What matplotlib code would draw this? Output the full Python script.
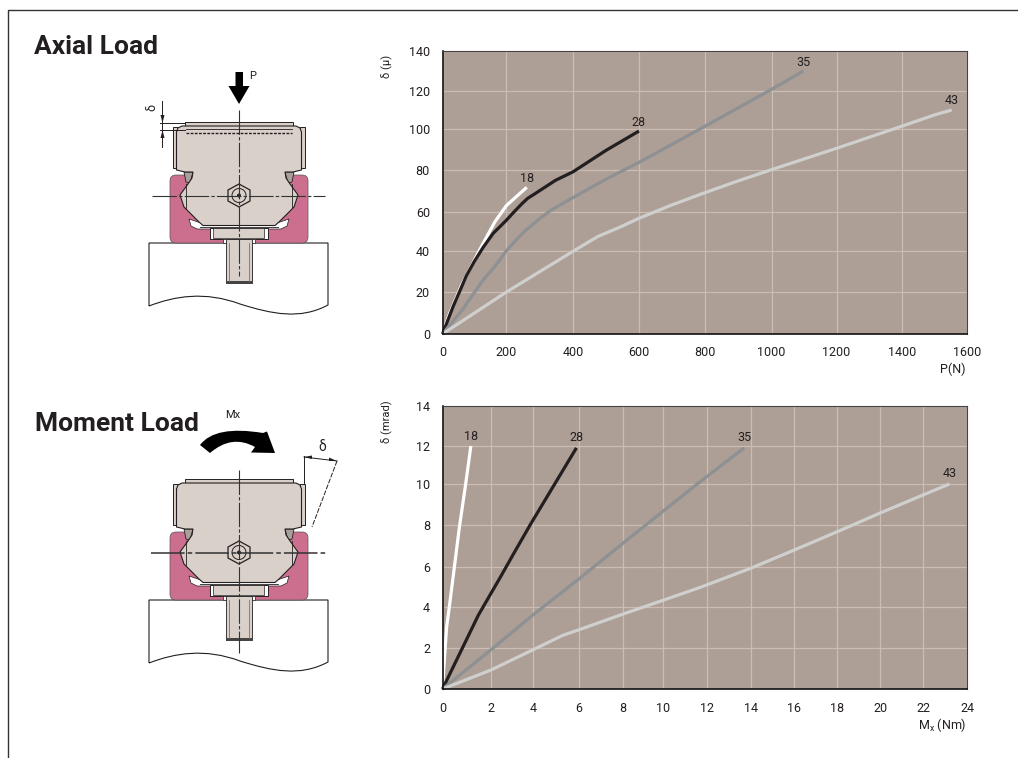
import matplotlib
matplotlib.use('Agg')
import matplotlib.pyplot as plt
import numpy as np
from matplotlib.patches import Polygon, Rectangle, FancyBboxPatch, PathPatch
from matplotlib.path import Path

plt.rcParams['font.family'] = ['Roboto', 'DejaVu Sans']
plt.rcParams['mathtext.default'] = 'regular'

W, H = 1018, 758

# Axial load curves, P (N) against deflection (micron)
axial_18_x = [0, 7, 23, 60, 117, 165, 201, 262]
axial_18_y = [0, 3.5, 10, 23.5, 40.7, 55, 63, 71.7]
axial_28_x = [0, 33, 75, 100, 128, 160, 200, 222, 248, 265, 285, 348, 400, 500, 600]
axial_28_y = [0, 13, 28, 35, 42, 49.2, 55.6, 59.7, 64, 66.5, 68.5, 75, 79, 89.5, 99]
axial_35_x = [0, 62, 95, 128, 166, 200, 233, 258, 299, 331, 366, 400, 501, 600, 785, 892, 1000, 1098]
axial_35_y = [0, 11.5, 18.7, 26, 32.8, 40, 46.3, 50.5, 56.4, 60.5, 63.8, 66.8, 75.6, 83.6, 100, 110.4, 120.8, 130]
axial_43_x = [0, 200, 301, 400, 475, 541, 600, 694, 785, 892, 1000, 1200, 1400, 1500, 1553]
axial_43_y = [0, 20, 30.1, 40, 47.5, 52.2, 56.8, 63, 68.3, 74.3, 80, 90.5, 101.5, 107.4, 110]

# Moment load curves, Mx (Nm) against deflection (mrad)
moment_18_x = [0, 0.07, 0.17, 0.30, 0.48, 0.69, 0.94, 1.17]
moment_18_y = [0, 1.3, 3, 4.17, 5.92, 7.83, 9.87, 12]
moment_28_x = [0, 0.86, 1.48, 2.43, 3.13, 3.87, 4.95, 5.9]
moment_28_y = [0, 2.08, 3.59, 5.47, 6.73, 8, 10, 11.9]
moment_35_x = [0, 2, 4, 6, 8, 10, 11.65, 13.7]
moment_35_y = [0, 1.9, 3.6, 5.4, 7.13, 8.67, 10.1, 11.9]
moment_43_x = [0, 2, 4, 5.3, 6, 8, 10, 11.65, 14, 16, 18, 20, 22, 23.2]
moment_43_y = [0, 0.92, 1.9, 2.6, 2.87, 3.64, 4.33, 4.97, 5.95, 6.8, 7.66, 8.57, 9.46, 10]

axial_ticks_x = [0, 200, 400, 600, 800, 1000, 1200, 1400, 1600]
axial_ticks_y = [0, 20, 40, 60, 80, 100, 120, 140]
moment_ticks_x = [0, 2, 4, 6, 8, 10, 12, 14, 16, 18, 20, 22, 24]
moment_ticks_y = [0, 2, 4, 6, 8, 10, 12, 14]

# the printed grids are not quite even, these are their pixel rows and columns
axial_grid_x = [442.5, 506, 573, 639, 705, 771.5, 836.5, 902, 967]
axial_grid_y = [334, 292.3, 251.3, 212, 169.7, 129, 91, 51]
moment_grid_x = [442.5, 491, 533, 578.7, 623, 663.3, 707.3, 750.7, 793.7, 836.7, 880, 923, 967]
moment_grid_y = [689, 647.7, 606.7, 567.3, 524.7, 484, 446, 406]

sizes = ['18', '28', '35', '43']
line_colors = ['#ffffff', '#231f20', '#8e9194', '#cfd0ce']

BG = '#ad9e96'
GRID = '#cbbdb5'
DARK = '#231f20'
BEIGE = '#d8d0c9'
PINK = '#cc6f8f'

fig = plt.figure(figsize=(W / 100, H / 100), dpi=100, facecolor='white')

# page layer in pixel coordinates, for the frame, titles and drawings
page = fig.add_axes([0, 0, 1, 1])
page.set_xlim(0, W)
page.set_ylim(H, 0)
page.axis('off')


def uneven_scale(ticks, grid):
    def forward(v):
        return np.interp(v, ticks, grid)

    def inverse(v):
        return np.interp(v, grid, ticks)

    return forward, inverse


def chart(grid_x, grid_y, xs, ys, xticks, yticks, label_gap):
    left, right = grid_x[0], grid_x[-1]
    bottom, top = grid_y[0], grid_y[-1]
    ax = fig.add_axes([left / W, 1 - bottom / H, (right - left) / W, (bottom - top) / H])
    ax.set_facecolor(BG)
    ax.set_xscale('function', functions=uneven_scale(xticks, grid_x))
    # rows run downwards in pixels, so use the distance up from the bottom
    ax.set_yscale('function', functions=uneven_scale(yticks, [bottom - g for g in grid_y]))
    ax.set_xlim(xticks[0], xticks[-1])
    ax.set_ylim(yticks[0], yticks[-1])
    ax.set_xticks(xticks)
    ax.set_yticks(yticks)
    ax.set_xticklabels([str(t) for t in xticks])
    ax.set_yticklabels([str(t) for t in yticks])
    ax.minorticks_off()
    ax.grid(True, color=GRID, lw=0.9)
    ax.set_axisbelow(True)
    ax.tick_params(length=0, labelsize=9, colors=DARK)
    ax.tick_params(axis='x', pad=9)
    ax.tick_params(axis='y', pad=9)
    for s in ['top', 'right']:
        ax.spines[s].set_linewidth(0.8)
        ax.spines[s].set_color('#444444')
    for s in ['left', 'bottom']:
        ax.spines[s].set_linewidth(1.2)
        ax.spines[s].set_color('#111111')
    for x, y, c, name, gap in zip(xs, ys, line_colors, sizes, label_gap):
        ax.plot(x, y, color=c, lw=2.3, solid_capstyle='butt', solid_joinstyle='round', clip_on=False)
        ax.annotate(name, xy=(x[-1], y[-1]), xytext=(0, gap), textcoords='offset points',
                    ha='center', va='center', fontsize=9, color=DARK)
    return ax


def mirror(points):
    return [(478 - x, y) for x, y in reversed(points)]


def wavy_base(dy):
    verts = [(149, 306), (149, 243), (328, 243), (328, 305),
             (300, 320), (272, 314), (240, 304), (205, 291), (175, 296), (149, 306)]
    verts = [(x, y + dy) for x, y in verts]
    codes = [Path.MOVETO, Path.LINETO, Path.LINETO, Path.LINETO,
             Path.CURVE4, Path.CURVE4, Path.CURVE4, Path.CURVE4, Path.CURVE4, Path.CURVE4]
    page.add_patch(PathPatch(Path(verts, codes), fc='white', ec=DARK, lw=0.8))


def carriage(dy, cross_top, cross_bottom, hline_x, hline_lw):
    # everything is drawn around the axial position and shifted by dy
    def p(pts):
        return [(x, y + dy) for x, y in pts]

    wavy_base(dy)

    page.add_patch(FancyBboxPatch((170, 175 + dy), 138, 68, boxstyle='round,pad=0,rounding_size=6',
                                  fc=PINK, ec='#555555', lw=0.5))
    # white gap under the carriage
    gap = [(189, 219), (191, 226), (197, 229), (281, 229), (287, 226), (289, 219), (277, 223), (201, 223)]
    page.add_patch(Polygon(p(gap), fc='white', ec=DARK, lw=0.5))
    page.add_patch(Rectangle((210, 228 + dy), 58, 11, fc='white', ec=DARK, lw=0.7))
    page.add_patch(Rectangle((213.5, 228 + dy), 51, 10, fc=BEIGE, ec=DARK, lw=0.5))
    page.add_patch(Rectangle((223, 239 + dy), 32, 4, fc='white', ec=DARK, lw=0.5))
    # stud
    page.add_patch(Rectangle((226, 239 + dy), 26, 44, fc=BEIGE, ec=DARK, lw=0.6))
    page.add_patch(Rectangle((226, 281 + dy), 26, 2.5, fc='#444444', ec='none'))
    page.plot([229, 229], [243 + dy, 281 + dy], color='#777777', lw=0.6)
    page.plot([249, 249], [243 + dy, 281 + dy], color='#777777', lw=0.6)

    # end plates and top plate
    page.add_patch(Rectangle((173, 127 + dy), 5, 41, fc=BEIGE, ec=DARK, lw=0.7))
    page.add_patch(Rectangle((300, 127 + dy), 5, 41, fc=BEIGE, ec=DARK, lw=0.7))
    page.add_patch(Rectangle((185, 122 + dy), 108, 4, fc=BEIGE, ec=DARK, lw=0.7))

    # seal at the top of the rail
    for seal in ([(184, 172), (193, 172), (190, 183), (186, 182)], mirror([(184, 172), (193, 172), (190, 183), (186, 182)])):
        page.add_patch(Polygon(p(seal), fc='#a9a09a', ec=DARK, lw=0.6))

    half = [(239, 126), (182, 126), (178, 128), (176.5, 132), (176.5, 170), (185, 172), (193, 172), (192, 178),
            (188, 184), (180, 195), (184, 207), (199, 222), (203, 225.5), (239, 225.5)]
    page.add_patch(Polygon(p(half + mirror(half)), fc=BEIGE, ec=DARK, lw=0.8))
    # seam lines on the sides and under the body
    page.plot([186, 186], [184 + dy, 208 + dy], color=DARK, lw=0.6)
    page.plot([292, 292], [184 + dy, 208 + dy], color=DARK, lw=0.6)
    page.plot([200, 278], [227 + dy, 227 + dy], color=DARK, lw=0.6)

    # grease nipple
    hexagon = [(239, 184), (250, 190), (250, 201), (239, 207), (228, 201), (228, 190)]
    page.add_patch(Polygon(p(hexagon), fc=BEIGE, ec=DARK, lw=0.9))
    page.add_patch(plt.Circle((239, 195.5 + dy), 7, fc=BEIGE, ec=DARK, lw=0.7))
    page.add_patch(plt.Circle((239, 195.5 + dy), 2, fc=DARK, ec='none'))

    # centre lines
    page.plot([239, 239], [cross_top, cross_bottom], color='#333333', lw=0.8, dashes=(22, 2, 3, 2))
    page.plot(hline_x, [195.5 + dy, 195.5 + dy], color='#333333', lw=hline_lw, dashes=(22, 2, 3, 2))


# page frame
page.plot([8, 8, W], [H, 10, 10], color='#333333', lw=1)

# titles
page.text(34, 47, 'Axial Load', fontsize=19, fontweight='bold', color=DARK, va='center', ha='left')
page.text(35, 424, 'Moment Load', fontsize=19, fontweight='bold', color=DARK, va='center', ha='left')

# axial drawing
carriage(0, 110, 276, [152, 325], 0.8)
page.add_patch(Polygon([(235.5, 72), (243, 72), (243, 86), (249.5, 86), (239, 104), (228.5, 86), (235.5, 86)],
                       fc='black', ec='none'))
page.text(253, 76, 'P', fontsize=8, color=DARK, ha='center', va='center')
page.text(152, 107, 'δ', fontsize=9, color=DARK, ha='center', va='center', rotation=90)
page.plot([162.5, 162.5], [101, 147], color=DARK, lw=0.7)
page.plot([160, 185], [123, 123], color=DARK, lw=0.7)
page.plot([160, 185], [130, 130], color=DARK, lw=0.7)
page.add_patch(Polygon([(160.5, 115), (164.5, 115), (162.5, 123)], fc=DARK, ec='none'))
page.add_patch(Polygon([(160.5, 138), (164.5, 138), (162.5, 130)], fc=DARK, ec='none'))
page.plot([186, 292], [129, 129], color=DARK, lw=0.6)
page.plot([186, 292], [133, 133], color=DARK, lw=1, dashes=(2, 1))

# moment drawing
carriage(357, 470, 653, [151, 326], 1.1)
arrow_verts = [(200, 445), (215, 425), (263, 433), (267, 431.5), (275, 453), (251, 452.5), (255, 447),
               (232, 434), (210, 453), (200, 445)]
arrow_codes = [Path.MOVETO, Path.CURVE3, Path.CURVE3, Path.LINETO, Path.LINETO, Path.LINETO, Path.LINETO,
               Path.CURVE3, Path.CURVE3, Path.CLOSEPOLY]
page.add_patch(PathPatch(Path(arrow_verts, arrow_codes), fc='black', ec='none'))
page.text(233, 415, 'Mx', fontsize=8, color=DARK, ha='center', va='center')
page.text(322, 447, 'δ', fontsize=10, color=DARK, ha='center', va='center')
page.plot([304, 304], [456, 483], color=DARK, lw=0.7)
page.plot([337, 312], [461, 527], color=DARK, lw=0.7, dashes=(5, 1.5))
page.plot([304, 337], [457, 461], color=DARK, lw=0.7)
page.add_patch(Polygon([(304, 457), (312, 455.5), (312, 459)], fc=DARK, ec='none'))
page.add_patch(Polygon([(337, 461), (329, 457.5), (329, 461)], fc=DARK, ec='none'))

# charts
ax1 = chart(axial_grid_x, axial_grid_y,
            [axial_18_x, axial_28_x, axial_35_x, axial_43_x],
            [axial_18_y, axial_28_y, axial_35_y, axial_43_y],
            axial_ticks_x, axial_ticks_y, [6, 6.5, 6, 7])
ax2 = chart(moment_grid_x, moment_grid_y,
            [moment_18_x, moment_28_x, moment_35_x, moment_43_x],
            [moment_18_y, moment_28_y, moment_35_y, moment_43_y],
            moment_ticks_x, moment_ticks_y, [6.5, 7.5, 7.5, 7.5])

page.text(387, 66, 'δ (μ)', fontsize=8, color=DARK, rotation=90, ha='center', va='center')
page.text(966, 369, 'P(N)', fontsize=9, color=DARK, ha='right', va='center')
page.text(387, 422, 'δ (mrad)', fontsize=8, color=DARK, rotation=90, ha='center', va='center')
page.text(966, 725, r'M$_{x}$ (Nm)', fontsize=9, color=DARK, ha='right', va='center')

fig.savefig('out.png', dpi=100, facecolor='white')
